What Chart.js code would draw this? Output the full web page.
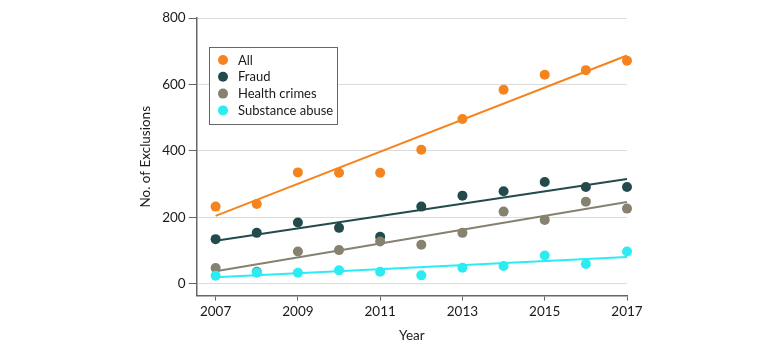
<!DOCTYPE html>
<html>
<head>
<meta charset="utf-8">
<script src="https://cdn.jsdelivr.net/npm/chart.js@4.4.1/dist/chart.umd.min.js"></script>
<style>
html,body{margin:0;padding:0;background:#fff;}
#wrap{width:780px;height:351px;position:relative;}
</style>
</head>
<body>
<div id="wrap"><canvas id="c" width="780" height="351"></canvas></div>
<script>
// ---- data ----
const years = [2007, 2008, 2009, 2010, 2011, 2012, 2013, 2014, 2015, 2016, 2017];
const allValues = [232, 240, 335, 334, 334, 403, 496, 584, 629, 643, 671];
const fraudValues = [134, 153, 184, 168, 141, 232, 265, 278, 306, 291, 291];
const healthValues = [47, 36, 97, 101, 127, 117, 153, 217, 192, 247, 226];
const substanceValues = [24, 33, 33, 40, 36, 25, 48, 53, 85, 59, 97];
// fitted trend lines, read at 2007 and 2017
const trendYears = [2007, 2017];
const allTrend = [204, 687];
const fraudTrend = [129, 315];
const healthTrend = [37, 246];
const substanceTrend = [19, 80];
const xTicks = [2007, 2009, 2011, 2013, 2015, 2017];
const yTicks = [0, 200, 400, 600, 800];
const seriesNames = ['All', 'Fraud', 'Health crimes', 'Substance abuse'];
const colors = ['#F5841F', '#234B4C', '#86826F', '#2BEBF3'];

const pointSeries = [allValues, fraudValues, healthValues, substanceValues];
const trendSeries = [allTrend, fraudTrend, healthTrend, substanceTrend];

const datasets = [];
pointSeries.forEach((vals, i) => {
  datasets.push({
    type: 'scatter',
    label: seriesNames[i],
    data: years.map((y, j) => ({x: y, y: vals[j]})),
    backgroundColor: colors[i],
    borderColor: colors[i],
    borderWidth: 0,
    pointRadius: 5,
    pointHoverRadius: 5,
    order: 4 - i,
    clip: false
  });
});
trendSeries.forEach((vals, i) => {
  datasets.push({
    type: 'line',
    label: seriesNames[i] + ' trend',
    data: trendYears.map((y, j) => ({x: y, y: vals[j]})),
    borderColor: colors[i],
    backgroundColor: colors[i],
    borderWidth: 2,
    pointRadius: 0,
    fill: false,
    order: 20 - i,
    clip: false
  });
});

const FONT = 'Lato, "Open Sans", sans-serif';

const legendPlugin = {
  id: 'boxLegend',
  afterDraw(chart) {
    const ctx = chart.ctx;
    ctx.save();
    const bx = 209.5, by = 47.5, bw = 128, bh = 77;
    ctx.fillStyle = '#fff';
    ctx.fillRect(bx, by, bw, bh);
    ctx.strokeStyle = '#666';
    ctx.lineWidth = 1;
    ctx.strokeRect(bx, by, bw, bh);
    ctx.font = '13px ' + FONT;
    ctx.textBaseline = 'middle';
    seriesNames.forEach((n, i) => {
      const cy = 60 + i * 16.8;
      ctx.fillStyle = colors[i];
      ctx.beginPath();
      ctx.arc(223, cy, 5, 0, Math.PI * 2);
      ctx.fill();
      ctx.fillStyle = '#1a1a1a';
      ctx.fillText(n, 238, cy + 0.5);
    });
    ctx.restore();
  }
};

new Chart(document.getElementById('c'), {
  data: {datasets},
  options: {
    responsive: false,
    animation: false,
    events: [],
    layout: {padding: {left: 135, right: 153, top: 18, bottom: 2}},
    plugins: {legend: {display: false}, tooltip: {enabled: false}},
    scales: {
      x: {
        type: 'linear',
        min: 2006.54,
        max: 2017,
        afterBuildTicks: s => { s.ticks = xTicks.map(v => ({value: v})); },
        ticks: {
          color: '#1a1a1a',
          font: {family: FONT, size: 13.5},
          padding: 3,
          maxRotation: 0,
          autoSkip: false,
          callback: v => String(v)
        },
        grid: {drawOnChartArea: false, drawTicks: true, tickLength: 5, tickColor: '#666', tickWidth: 1},
        border: {display: true, color: '#666', width: 1.5},
        title: {display: true, text: 'Year', color: '#1a1a1a', font: {family: FONT, size: 13.5}, padding: {top: 5, bottom: 5}}
      },
      y: {
        type: 'linear',
        min: -36,
        max: 800,
        afterBuildTicks: s => { s.ticks = yTicks.map(v => ({value: v})); },
        ticks: {
          color: '#1a1a1a',
          font: {family: FONT, size: 13.5},
          padding: 3,
          autoSkip: false,
          callback: v => String(v)
        },
        grid: {drawOnChartArea: true, color: '#dcdcdc', lineWidth: 1, drawTicks: true, tickLength: 8, tickColor: '#666', tickWidth: 1},
        border: {display: true, color: '#666', width: 1.5},
        title: {display: true, text: 'No. of Exclusions', color: '#1a1a1a', font: {family: FONT, size: 13.5}, padding: {top: 3, bottom: 5}}
      }
    }
  },
  plugins: [legendPlugin]
});
</script>
</body>
</html>
